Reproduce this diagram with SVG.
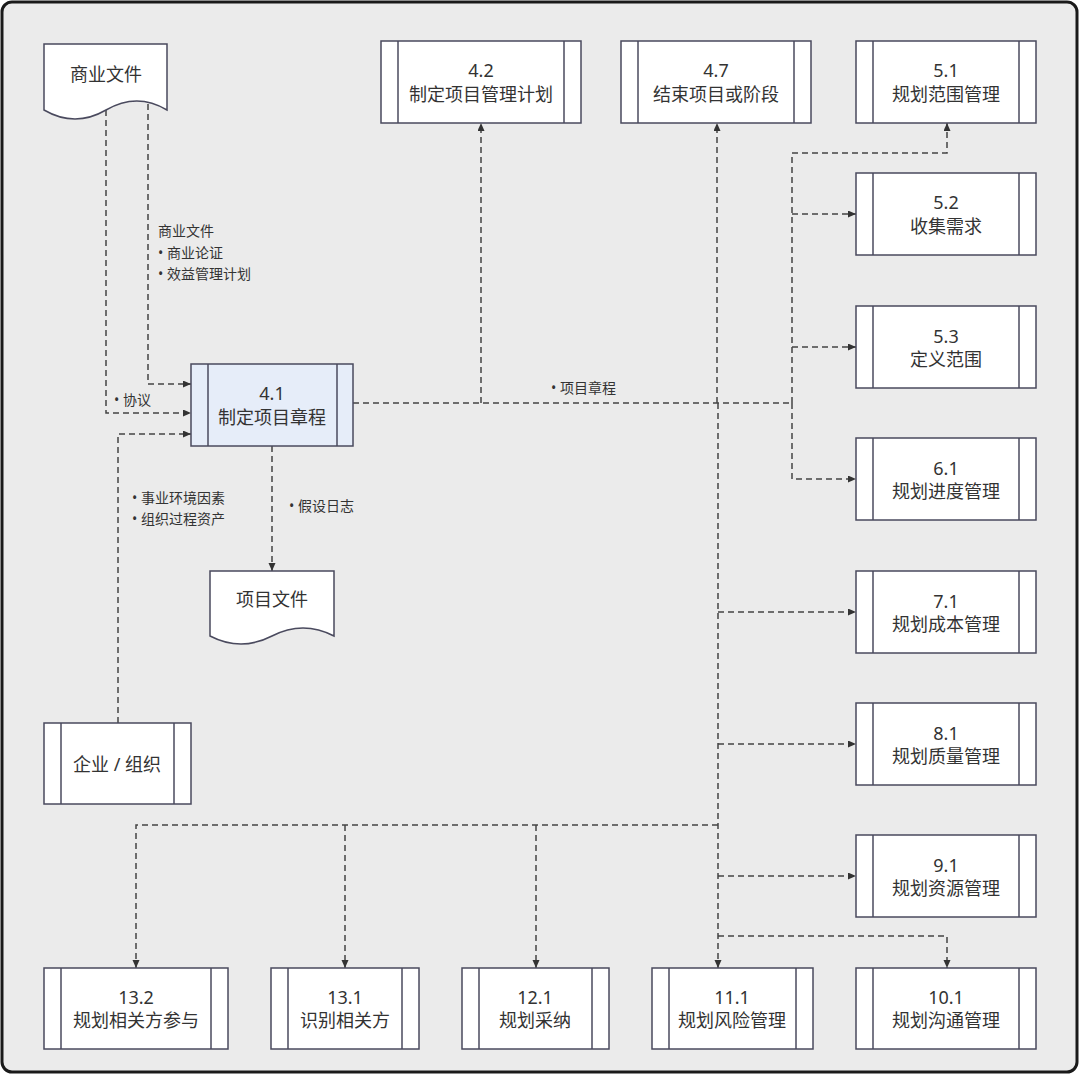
<svg xmlns="http://www.w3.org/2000/svg" width="1080" height="1075" viewBox="0 0 1080 1075">
<defs>
<marker id="arr" markerUnits="userSpaceOnUse" markerWidth="9" markerHeight="8" refX="8" refY="3.5" orient="auto">
<path d="M0,0 L8,3.5 L0,7 Z" fill="#333"/>
</marker>
<style>
.box{fill:#fff;stroke:#4a4a5e;stroke-width:1.5}
.hl{fill:#e6edf9}
.bar{stroke:#4a4a5e;stroke-width:1.5}
.t{font-family:"Noto Sans","Noto Sans CJK SC",sans-serif;font-size:18px;fill:#333;text-anchor:middle}
.s{font-family:"Noto Sans","Noto Sans CJK SC",sans-serif;font-size:14px;fill:#333}
.c{fill:none;stroke:#444;stroke-width:1.5;stroke-dasharray:6 4}
.a{marker-end:url(#arr)}
</style>
</defs>
<rect x="2" y="2" width="1075" height="1070" rx="10" fill="#ebebeb" stroke="#1a1a1a" stroke-width="3"/>

<g id="connectors">
<path class="c a" d="M106,110 V413 H191"/>
<path class="c a" d="M148,104 V384 H191"/>
<path class="c a" d="M118,723 V434 H191"/>
<path class="c a" d="M272,446 V571"/>
<path class="c" d="M353,403 H792"/>
<path class="c a" d="M481,403 V123"/>
<path class="c a" d="M717,403 V123"/>
<path class="c a" d="M718,403 V968"/>
<path class="c a" d="M792,403 V153 H947 V123"/>
<path class="c a" d="M792,403 V479 H856"/>
<path class="c a" d="M792,214 H856"/>
<path class="c a" d="M792,347 H856"/>
<path class="c a" d="M718,612 H856"/>
<path class="c a" d="M718,744 H856"/>
<path class="c a" d="M718,876 H856"/>
<path class="c a" d="M718,936 H947 V968"/>
<path class="c a" d="M718,825 H136 V968"/>
<path class="c a" d="M345,825 V968"/>
<path class="c a" d="M536,825 V968"/>
</g>

<g id="labels">
<text class="s" x="158" y="236">商业文件</text>
<text class="s" x="158" y="258">• 商业论证</text>
<text class="s" x="158" y="279">• 效益管理计划</text>
<text class="s" x="114" y="405">• 协议</text>
<text class="s" x="132" y="503">• 事业环境因素</text>
<text class="s" x="132" y="524">• 组织过程资产</text>
<text class="s" x="289" y="511">• 假设日志</text>
<text class="s" x="551" y="393">• 项目章程</text>
</g>

<g id="doc-business">
<path class="box" d="M44,44 H167 V110 Q137,92 106,110 Q75,128 44,110 Z"/>
<text class="t" x="106" y="81">商业文件</text>
</g>

<g id="doc-project">
<path class="box" d="M210,571 H334 V636 Q303,620 272,636 Q241,652 210,636 Z"/>
<text class="t" x="272" y="606">项目文件</text>
</g>

<g id="n41">
<rect class="box hl" x="191" y="364" width="162" height="82"/>
<line class="bar" x1="208" y1="364" x2="208" y2="446"/><line class="bar" x1="337" y1="364" x2="337" y2="446"/>
<text class="t" x="272" y="400">4.1</text><text class="t" x="272" y="424">制定项目章程</text>
</g>

<g id="org">
<rect class="box" x="44" y="723" width="147" height="81"/>
<line class="bar" x1="61" y1="723" x2="61" y2="804"/><line class="bar" x1="174" y1="723" x2="174" y2="804"/>
<text class="t" x="117" y="771">企业 / 组织</text>
</g>

<g id="n42">
<rect class="box" x="381" y="41" width="200" height="82"/>
<line class="bar" x1="398" y1="41" x2="398" y2="123"/><line class="bar" x1="564" y1="41" x2="564" y2="123"/>
<text class="t" x="481" y="77">4.2</text><text class="t" x="481" y="101">制定项目管理计划</text>
</g>

<g id="n47">
<rect class="box" x="621" y="41" width="190" height="82"/>
<line class="bar" x1="638" y1="41" x2="638" y2="123"/><line class="bar" x1="794" y1="41" x2="794" y2="123"/>
<text class="t" x="716" y="77">4.7</text><text class="t" x="716" y="101">结束项目或阶段</text>
</g>

<g id="n51">
<rect class="box" x="856" y="41" width="180" height="82"/>
<line class="bar" x1="873" y1="41" x2="873" y2="123"/><line class="bar" x1="1019" y1="41" x2="1019" y2="123"/>
<text class="t" x="946" y="77">5.1</text><text class="t" x="946" y="101">规划范围管理</text>
</g>

<g id="n52">
<rect class="box" x="856" y="173" width="180" height="82"/>
<line class="bar" x1="873" y1="173" x2="873" y2="255"/><line class="bar" x1="1019" y1="173" x2="1019" y2="255"/>
<text class="t" x="946" y="209">5.2</text><text class="t" x="946" y="233">收集需求</text>
</g>

<g id="n53">
<rect class="box" x="856" y="306" width="180" height="82"/>
<line class="bar" x1="873" y1="306" x2="873" y2="388"/><line class="bar" x1="1019" y1="306" x2="1019" y2="388"/>
<text class="t" x="946" y="343">5.3</text><text class="t" x="946" y="366">定义范围</text>
</g>

<g id="n61">
<rect class="box" x="856" y="438" width="180" height="82"/>
<line class="bar" x1="873" y1="438" x2="873" y2="520"/><line class="bar" x1="1019" y1="438" x2="1019" y2="520"/>
<text class="t" x="946" y="475">6.1</text><text class="t" x="946" y="498">规划进度管理</text>
</g>

<g id="n71">
<rect class="box" x="856" y="571" width="180" height="82"/>
<line class="bar" x1="873" y1="571" x2="873" y2="653"/><line class="bar" x1="1019" y1="571" x2="1019" y2="653"/>
<text class="t" x="946" y="608">7.1</text><text class="t" x="946" y="631">规划成本管理</text>
</g>

<g id="n81">
<rect class="box" x="856" y="703" width="180" height="82"/>
<line class="bar" x1="873" y1="703" x2="873" y2="785"/><line class="bar" x1="1019" y1="703" x2="1019" y2="785"/>
<text class="t" x="946" y="740">8.1</text><text class="t" x="946" y="763">规划质量管理</text>
</g>

<g id="n91">
<rect class="box" x="856" y="835" width="180" height="82"/>
<line class="bar" x1="873" y1="835" x2="873" y2="917"/><line class="bar" x1="1019" y1="835" x2="1019" y2="917"/>
<text class="t" x="946" y="872">9.1</text><text class="t" x="946" y="895">规划资源管理</text>
</g>

<g id="n101">
<rect class="box" x="856" y="968" width="180" height="81"/>
<line class="bar" x1="873" y1="968" x2="873" y2="1049"/><line class="bar" x1="1019" y1="968" x2="1019" y2="1049"/>
<text class="t" x="946" y="1004">10.1</text><text class="t" x="946" y="1027">规划沟通管理</text>
</g>

<g id="n111">
<rect class="box" x="652" y="968" width="161" height="81"/>
<line class="bar" x1="669" y1="968" x2="669" y2="1049"/><line class="bar" x1="796" y1="968" x2="796" y2="1049"/>
<text class="t" x="732" y="1004">11.1</text><text class="t" x="732" y="1027">规划风险管理</text>
</g>

<g id="n121">
<rect class="box" x="462" y="968" width="147" height="81"/>
<line class="bar" x1="479" y1="968" x2="479" y2="1049"/><line class="bar" x1="592" y1="968" x2="592" y2="1049"/>
<text class="t" x="535" y="1004">12.1</text><text class="t" x="535" y="1027">规划采纳</text>
</g>

<g id="n131">
<rect class="box" x="271" y="968" width="148" height="81"/>
<line class="bar" x1="288" y1="968" x2="288" y2="1049"/><line class="bar" x1="402" y1="968" x2="402" y2="1049"/>
<text class="t" x="345" y="1004">13.1</text><text class="t" x="345" y="1027">识别相关方</text>
</g>

<g id="n132">
<rect class="box" x="44" y="968" width="184" height="81"/>
<line class="bar" x1="61" y1="968" x2="61" y2="1049"/><line class="bar" x1="211" y1="968" x2="211" y2="1049"/>
<text class="t" x="136" y="1004">13.2</text><text class="t" x="136" y="1027">规划相关方参与</text>
</g>
</svg>
